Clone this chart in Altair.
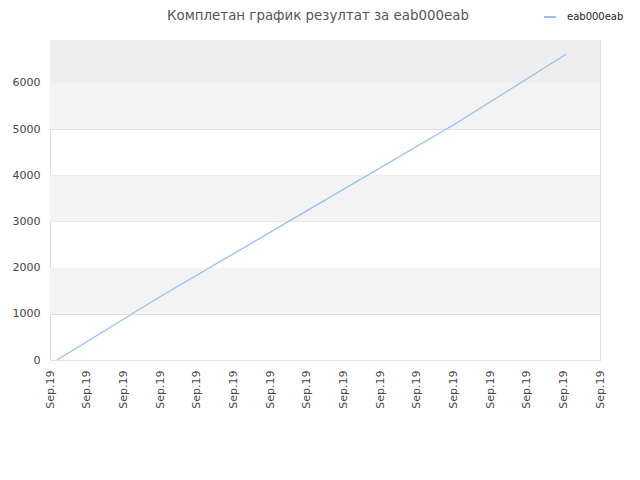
import altair as alt
import pandas as pd

# Data
x_pos = [0.19, 3.0, 7.0, 11.0, 14.07]
values = [0, 1370, 3230, 5090, 6620]
series_name = "eab000eab"
tick_positions = list(range(0, 16))
tick_label = "Sep.19"
band_lo = [1000, 3000, 5000]
band_hi = [2000, 4000, 6000]
top_band_lo = [6000]
top_band_hi = [6930]

Y_MAX = 6930

line_df = pd.DataFrame({"x": x_pos, "y": values, "series": [series_name] * len(x_pos)})
band_df = pd.DataFrame({"lo": band_lo, "hi": band_hi})
top_df = pd.DataFrame({"lo": top_band_lo, "hi": top_band_hi})

xscale = alt.Scale(domain=[0, 15], nice=False, zero=False)
yscale = alt.Scale(domain=[0, Y_MAX], nice=False)

bands = alt.Chart(band_df).mark_rect(color="#f3f3f3").encode(
    x=alt.value(0),
    x2=alt.value(550),
    y=alt.Y("lo:Q", scale=yscale),
    y2="hi:Q",
)
top_band = alt.Chart(top_df).mark_rect(color="#eeeeee").encode(
    x=alt.value(0),
    x2=alt.value(550),
    y=alt.Y("lo:Q", scale=yscale),
    y2="hi:Q",
)

line = alt.Chart(line_df).mark_line(strokeWidth=1.3).encode(
    x=alt.X(
        "x:Q",
        scale=xscale,
        axis=alt.Axis(
            values=tick_positions,
            labelExpr=f"'{tick_label}'",
            labelAngle=-90,
            ticks=False,
            domain=False,
            grid=False,
            labelPadding=10,
            labelFontSize=11,
            labelColor="#444444",
            labelFont="DejaVu Sans",
            title=None,
        ),
    ),
    y=alt.Y(
        "y:Q",
        scale=yscale,
        axis=alt.Axis(
            values=[0, 1000, 2000, 3000, 4000, 5000, 6000],
            format="d",
            ticks=False,
            domain=False,
            grid=True,
            gridColor="#e0e0e0",
            labelPadding=10,
            labelFontSize=11,
            labelColor="#444444",
            labelFont="DejaVu Sans",
            title=None,
        ),
    ),
    color=alt.Color(
        "series:N",
        scale=alt.Scale(range=["#92c0f5"]),
        legend=alt.Legend(
            title=None,
            orient="none",
            legendX=493,
            legendY=-30,
            symbolType="stroke",
            symbolSize=144,
            symbolStrokeWidth=2,
            labelOffset=10,
            labelFontSize=10,
            labelFont="DejaVu Sans",
            labelColor="#222222",
        ),
    ),
)

chart = (
    alt.layer(bands, top_band, line)
    .properties(
        width=550,
        height=320,
        padding={"left": 42, "top": 32, "right": 24, "bottom": 104},
        autosize=alt.AutoSizeParams(type="none"),
        title=alt.TitleParams(
            "Комплетан график резултат за eab000eab",
            font="DejaVu Sans",
            fontSize=13.4,
            fontWeight="normal",
            color="#555555",
            anchor="middle",
            dx=-7,
            dy=28,
            offset=16,
        ),
    )
    .configure_view(stroke="#dddddd", strokeWidth=1)
    .configure(background="white")
)

chart.save("out.html", embed_options={"renderer": "svg", "actions": False})
